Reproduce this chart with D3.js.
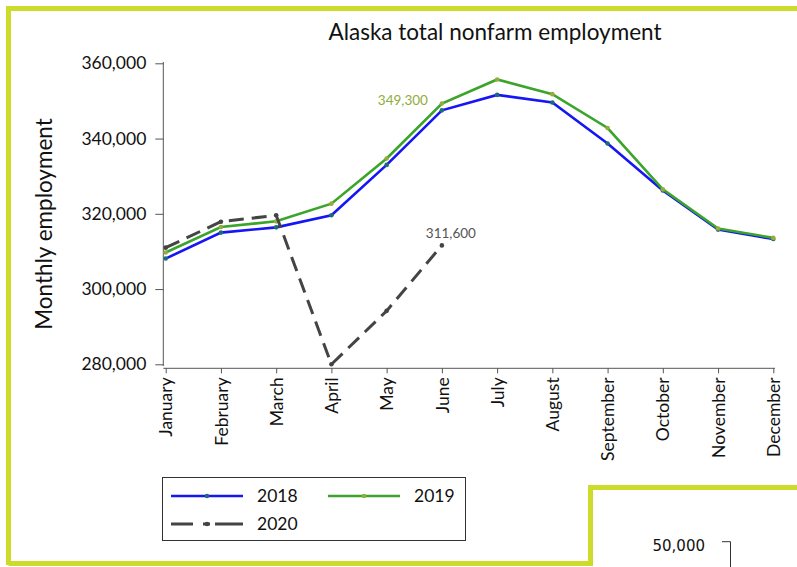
<!DOCTYPE html>
<html>
<head>
<meta charset="utf-8">
<script src="https://cdn.jsdelivr.net/npm/d3@7"></script>
<style>
  body { margin: 0; background: #fff; }
  svg text { font-family: Lato, "Open Sans", sans-serif; fill: #111; }
</style>
</head>
<body>
<svg id="chart" width="797" height="567"></svg>
<script>
var months = ["January", "February", "March", "April", "May", "June",
              "July", "August", "September", "October", "November", "December"];
var yTicks = [280000, 300000, 320000, 340000, 360000];

var emp2018 = [308100, 315000, 316400, 319600, 333000, 347500, 351600, 349600, 338700, 326200, 315800, 313300];
var emp2019 = [309700, 316500, 318000, 322700, 334700, 349300, 355700, 351800, 342800, 326500, 316100, 313600];
var emp2020 = [311000, 317900, 319600, 280000, 294200, 311600];

var svg = d3.select("#chart"),
    width = +svg.attr("width"),
    height = +svg.attr("height");

var frameColor = "#cddc2b";

// outer frame (the cut-off panel border)
svg.append("path")
    .attr("d", "M8.5,565 L8.5,8.5 L797,8.5")
    .attr("fill", "none")
    .attr("stroke", frameColor)
    .attr("stroke-width", 5);
svg.append("path")
    .attr("d", "M8.5,563.5 L590.5,563.5 L590.5,487.5 L797,487.5")
    .attr("fill", "none")
    .attr("stroke", frameColor)
    .attr("stroke-width", 5);

var x = d3.scalePoint()
    .domain(months)
    .range([165.7, 773.3]);

var y = d3.scaleLinear()
    .domain([280000, 360000])
    .range([364.3, 63.3]);

// title
svg.append("text")
    .attr("x", 495)
    .attr("y", 40)
    .attr("text-anchor", "middle")
    .style("font-size", "22.5px")
    .text("Alaska total nonfarm employment");

// y axis
var yAxis = svg.append("g")
    .attr("transform", "translate(163.3,0)")
    .call(d3.axisLeft(y).tickValues(yTicks).tickSize(8).tickPadding(9)
        .tickFormat(d3.format(",")));
yAxis.select(".domain").attr("d", "M0,62V366");
yAxis.selectAll("text").style("font-size", "17.5px").attr("fill", "#111");
yAxis.selectAll("line, path").attr("stroke", "#555");

svg.append("text")
    .attr("transform", "translate(52,224) rotate(-90)")
    .attr("text-anchor", "middle")
    .style("font-size", "22.5px")
    .text("Monthly employment");

// x axis
var xAxis = svg.append("g")
    .attr("transform", "translate(0,368.3)")
    .call(d3.axisBottom(x).tickSize(5).tickSizeOuter(0));
xAxis.select(".domain").attr("d", "M163.3,0H775");
xAxis.selectAll("line, path").attr("stroke", "#555");
xAxis.selectAll("text")
    .style("font-size", "17.5px")
    .attr("fill", "#111")
    .attr("text-anchor", "end")
    .attr("transform", "rotate(-90)")
    .attr("x", -9)
    .attr("y", 0)
    .attr("dy", "0.35em");

var series = [
    { name: "2018", values: emp2018, color: "#1515f5", marker: "#1d6a7a", dash: null, legendDash: null, width: 2.6 },
    { name: "2019", values: emp2019, color: "#3aa52a", marker: "#97ab3c", dash: null, legendDash: null, width: 2.6 },
    { name: "2020", values: emp2020, color: "#444", marker: "#444", dash: "15,8", legendDash: "22,10,7,5,28", width: 3 }
];

var line = d3.line()
    .x(function(d, i) { return x(months[i]); })
    .y(function(d) { return y(d); });

series.forEach(function(s) {
    svg.append("path")
        .datum(s.values)
        .attr("fill", "none")
        .attr("stroke", s.color)
        .attr("stroke-width", s.width)
        .attr("stroke-dasharray", s.dash)
        .attr("d", line);
    svg.append("g").selectAll("circle")
        .data(s.values)
        .enter().append("circle")
        .attr("cx", function(d, i) { return x(months[i]); })
        .attr("cy", function(d) { return y(d); })
        .attr("r", 2.3)
        .attr("fill", s.marker);
});

// point labels
svg.append("text")
    .attr("x", x("June") - 14)
    .attr("y", y(emp2019[5]) + 1)
    .attr("text-anchor", "end")
    .style("font-size", "13.5px")
    .style("fill", "#8fac3b")
    .text(d3.format(",")(emp2019[5]));

svg.append("text")
    .attr("x", x("June") + 9)
    .attr("y", y(emp2020[5]) - 7)
    .attr("text-anchor", "middle")
    .style("font-size", "13.5px")
    .style("fill", "#555")
    .text(d3.format(",")(emp2020[5]));

// legend
var legend = svg.append("g");
legend.append("rect")
    .attr("x", 162.5)
    .attr("y", 477.5)
    .attr("width", 303)
    .attr("height", 63)
    .attr("fill", "#fff")
    .attr("stroke", "#333")
    .attr("stroke-width", 1);

var legendPos = [[171, 496], [328, 496], [171, 524]];
series.forEach(function(s, i) {
    var p = legendPos[i];
    legend.append("line")
        .attr("x1", p[0]).attr("x2", p[0] + 72)
        .attr("y1", p[1]).attr("y2", p[1])
        .attr("stroke", s.color)
        .attr("stroke-width", s.width)
        .attr("stroke-dasharray", s.legendDash);
    legend.append("circle")
        .attr("cx", p[0] + 36).attr("cy", p[1])
        .attr("r", 2.3)
        .attr("fill", s.marker);
    legend.append("text")
        .attr("x", p[0] + 86)
        .attr("y", p[1])
        .attr("dy", "0.35em")
        .style("font-size", "17.5px")
        .text(s.name);
});

// fragment of the next panel
svg.append("text")
    .attr("x", 705)
    .attr("y", 551)
    .attr("text-anchor", "end")
    .style("font-family", "'DejaVu Sans', sans-serif")
    .style("font-size", "15px")
    .text("50,000");
svg.append("path")
    .attr("d", "M722,541.7H730.5V567")
    .attr("fill", "none")
    .attr("stroke", "#333")
    .attr("stroke-width", 1);
</script>
</body>
</html>
